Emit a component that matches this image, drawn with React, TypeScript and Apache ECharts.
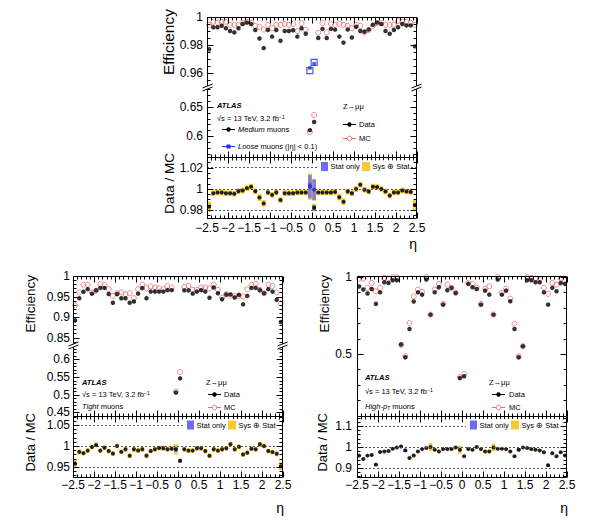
import React, { useEffect, useRef } from "react";
import * as echarts from "echarts";

// η bin centres, bin width 0.1
const etaBins = [
  -2.45, -2.35, -2.25, -2.15, -2.05, -1.95, -1.85, -1.75, -1.65, -1.55,
  -1.45, -1.35, -1.25, -1.15, -1.05, -0.95, -0.85, -0.75, -0.65, -0.55,
  -0.45, -0.35, -0.25, -0.15, -0.05, 0.05, 0.15, 0.25, 0.35, 0.45,
  0.55, 0.65, 0.75, 0.85, 0.95, 1.05, 1.15, 1.25, 1.35, 1.45,
  1.55, 1.65, 1.75, 1.85, 1.95, 2.05, 2.15, 2.25, 2.35, 2.45,
];
const etaTicks = [-2.5, -2, -1.5, -1, -0.5, 0, 0.5, 1, 1.5, 2, 2.5];

// Medium muons
const mediumData = [
  0.977, 0.9927, 0.9927, 0.9937, 0.992, 0.99, 0.989, 0.992, 0.995, 0.996,
  0.995, 0.9907, 0.9846, 0.9778, 0.9907, 0.986, 0.9907, 0.983, 0.99, 0.99,
  0.9905, 0.986, 0.992, 0.988, 0.61, 0.624, 0.985, 0.9915, 0.985, 0.9915,
  0.991, 0.986, 0.9817, 0.991, 0.9854, 0.993, 0.99, 0.9895, 0.991, 0.9944,
  0.996, 0.995, 0.99, 0.988, 0.9907, 0.9927, 0.995, 0.994, 0.994, 0.979,
];
const mediumMC = [
  0.9944, 0.9966, 0.996, 0.9966, 0.9966, 0.9944, 0.9944, 0.9944, 0.9956, 0.9966,
  0.9956, 0.9937, 0.993, 0.991, 0.9944, 0.992, 0.9944, 0.9944, 0.995, 0.9944,
  0.995, 0.99, 0.9956, 0.991, 0.607, 0.636, 0.9888, 0.9956, 0.989, 0.995,
  0.9944, 0.995, 0.9944, 0.9937, 0.992, 0.9944, 0.9937, 0.989, 0.9907, 0.9937,
  0.9956, 0.9956, 0.9944, 0.9944, 0.9944, 0.997, 0.9966, 0.9966, 0.9956, 0.9944,
];
const mediumRatio = [
  0.983, 0.9958, 0.9965, 0.9965, 0.9958, 0.9958, 0.9952, 0.9977, 0.9984, 1.0006,
  1.002, 0.9977, 0.9916, 0.9861, 0.9965, 0.9942, 0.9965, 0.9894, 0.9958, 0.9958,
  0.9958, 0.9965, 0.9965, 0.9965, 1.003, 0.982, 0.9965, 0.9965, 0.9965, 0.9965,
  0.997, 0.992, 0.9877, 0.9974, 0.9958, 0.9997, 1.0039, 0.999, 0.9974, 1.002,
  1.0016, 0.9997, 0.9974, 0.9935, 0.9965, 0.9965, 0.9984, 0.9974, 0.997, 0.9845,
];
const mediumStatErr = [
  0.0015, 0.0008, 0.0008, 0.0008, 0.0008, 0.0008, 0.0008, 0.0008, 0.0008, 0.0008,
  0.0008, 0.0008, 0.0008, 0.0008, 0.0008, 0.0008, 0.0008, 0.0008, 0.0008, 0.0008,
  0.0008, 0.0008, 0.0008, 0.0008, 0.003, 0.0025, 0.0008, 0.0008, 0.0008, 0.0008,
  0.0008, 0.0008, 0.0008, 0.0008, 0.0008, 0.0008, 0.0008, 0.0008, 0.0008, 0.0008,
  0.0008, 0.0008, 0.0008, 0.0008, 0.0008, 0.0008, 0.0008, 0.0008, 0.0008, 0.0015,
];
const mediumSysErr = [
  0.0048, 0.0027, 0.0027, 0.0027, 0.0027, 0.0027, 0.0027, 0.0027, 0.0027, 0.0027,
  0.0027, 0.0027, 0.0031, 0.0031, 0.0027, 0.0027, 0.0027, 0.0027, 0.0027, 0.0027,
  0.0027, 0.0027, 0.0027, 0.0027, 0.004, 0.0035, 0.0027, 0.0027, 0.0027, 0.0027,
  0.0027, 0.0031, 0.0031, 0.0027, 0.0027, 0.0027, 0.0027, 0.0027, 0.0027, 0.0027,
  0.0027, 0.0027, 0.0027, 0.0027, 0.0027, 0.0027, 0.0027, 0.0027, 0.0027, 0.0048,
];

// Loose muons, |η| < 0.1 only
const looseBins = [-0.05, 0.05];
const looseData = [0.9636, 0.9666];
const looseMC = [0.9617, 0.9676];
const looseRatio = [1.002, 0.999];
const looseStatErr = [0.011, 0.01];
const looseSysErr = [0.0126, 0.0101];

// Tight muons
const tightData = [
  0.892, 0.946, 0.9615, 0.968, 0.957, 0.965, 0.971, 0.971, 0.956, 0.935,
  0.956, 0.946, 0.946, 0.935, 0.938, 0.957, 0.9705, 0.946, 0.962, 0.962,
  0.962, 0.962, 0.9656, 0.9656, 0.506, 0.546, 0.965, 0.965, 0.957, 0.962,
  0.9656, 0.962, 0.947, 0.972, 0.958, 0.9434, 0.955, 0.955, 0.9475, 0.954,
  0.931, 0.9516, 0.971, 0.971, 0.9656, 0.958, 0.968, 0.962, 0.942, 0.888,
];
const tightMC = [
  0.9287, 0.96, 0.9787, 0.9787, 0.96, 0.964, 0.98, 0.978, 0.968, 0.9516,
  0.958, 0.96, 0.9557, 0.958, 0.946, 0.968, 0.9787, 0.9705, 0.9746, 0.972,
  0.9697, 0.968, 0.976, 0.972, 0.509, 0.564, 0.9738, 0.976, 0.9664, 0.9664,
  0.972, 0.972, 0.9697, 0.9787, 0.9664, 0.9475, 0.9557, 0.9516, 0.9516, 0.9516,
  0.95, 0.968, 0.9787, 0.981, 0.9664, 0.958, 0.9787, 0.976, 0.96, 0.933,
];
const tightRatio = [
  0.958, 0.986, 0.983, 0.989, 0.9976, 1.0024, 0.989, 0.996, 0.988, 0.982,
  1.0, 0.986, 0.992, 0.977, 0.992, 0.9895, 0.992, 0.977, 0.988, 0.992,
  0.995, 0.9944, 0.992, 0.9935, 0.992, 0.965, 0.992, 0.989, 0.989, 0.9944,
  0.9944, 0.988, 0.9766, 0.992, 0.989, 0.992, 0.9944, 1.004, 0.992, 0.998,
  0.98, 0.984, 0.9935, 0.992, 1.004, 1.0, 0.988, 0.9855, 0.9815, 0.952,
];
const tightStatErr = [
  0.003, 0.001, 0.001, 0.001, 0.001, 0.001, 0.001, 0.001, 0.001, 0.001,
  0.001, 0.001, 0.001, 0.001, 0.001, 0.001, 0.001, 0.001, 0.001, 0.001,
  0.001, 0.001, 0.001, 0.001, 0.005, 0.004, 0.001, 0.001, 0.001, 0.001,
  0.001, 0.001, 0.001, 0.001, 0.001, 0.001, 0.001, 0.001, 0.001, 0.001,
  0.001, 0.001, 0.001, 0.001, 0.001, 0.001, 0.001, 0.001, 0.001, 0.003,
];
const tightSysErr = [
  0.009, 0.006, 0.0055, 0.0055, 0.0055, 0.0055, 0.0055, 0.0055, 0.0055, 0.0055,
  0.0055, 0.0055, 0.0055, 0.0055, 0.0055, 0.0055, 0.0055, 0.0055, 0.0055, 0.0055,
  0.0055, 0.0055, 0.0055, 0.0055, 0.0125, 0.005, 0.0055, 0.0055, 0.0055, 0.0055,
  0.0055, 0.0055, 0.0055, 0.0055, 0.0055, 0.0055, 0.0055, 0.0055, 0.0055, 0.0055,
  0.0055, 0.0055, 0.0055, 0.0055, 0.0055, 0.0055, 0.0055, 0.0055, 0.006, 0.01,
];

// High-pT muons
const highPtData = [
  0.938, 0.918, 0.892, 0.922, 0.825, 0.9, 0.965, 0.961, 0.978, 0.978,
  0.561, 0.478, 0.662, 0.84, 0.9, 0.885, 0.983, 0.755, 0.9, 0.933,
  0.82, 0.913, 0.929, 0.896, 0.344, 0.355, 0.955, 0.933, 0.922, 0.82,
  0.911, 0.885, 0.755, 0.983, 0.885, 0.911, 0.842, 0.662, 0.478, 0.55,
  0.978, 0.978, 0.965, 0.965, 0.9, 0.82, 0.929, 0.907, 0.961, 0.955,
];
const highPtMC = [
  0.989, 0.989, 0.929, 0.961, 0.907, 0.929, 0.994, 0.989, 0.998, 0.998,
  0.559, 0.485, 0.701, 0.874, 0.918, 0.903, 0.998, 0.755, 0.918, 0.955,
  0.825, 0.95, 0.929, 0.898, 0.349, 0.371, 0.961, 0.955, 0.929, 0.825,
  0.924, 0.939, 0.756, 0.998, 0.896, 0.924, 0.859, 0.697, 0.485, 0.551,
  0.998, 0.994, 0.989, 0.983, 0.929, 0.89, 0.961, 0.95, 0.989, 0.978,
];
const highPtRatio = [
  0.959, 0.943, 0.959, 0.962, 0.916, 0.976, 0.979, 0.981, 0.992, 0.998,
  1.003, 0.984, 0.948, 0.96, 0.979, 0.99, 0.995, 1.0, 0.987, 0.979,
  0.99, 0.99, 0.99, 0.998, 0.987, 0.956, 0.99, 0.987, 1.0, 0.99,
  0.979, 0.979, 0.998, 0.992, 0.992, 0.99, 0.979, 0.956, 0.987, 0.998,
  0.995, 0.99, 0.987, 0.983, 0.975, 0.913, 0.97, 0.956, 0.975, 0.96,
];
const highPtStatErr = [
  0.003, 0.003, 0.003, 0.003, 0.006, 0.003, 0.003, 0.003, 0.003, 0.003,
  0.003, 0.008, 0.003, 0.003, 0.003, 0.003, 0.003, 0.003, 0.003, 0.003,
  0.003, 0.003, 0.003, 0.003, 0.003, 0.003, 0.003, 0.003, 0.003, 0.003,
  0.003, 0.003, 0.003, 0.003, 0.003, 0.003, 0.003, 0.003, 0.008, 0.003,
  0.003, 0.003, 0.003, 0.003, 0.003, 0.007, 0.003, 0.003, 0.003, 0.003,
];
const highPtSysErr = [
  0.006, 0.006, 0.006, 0.006, 0.006, 0.006, 0.006, 0.006, 0.006, 0.006,
  0.006, 0.006, 0.006, 0.006, 0.006, 0.006, 0.006, 0.019, 0.006, 0.006,
  0.006, 0.006, 0.006, 0.006, 0.019, 0.006, 0.006, 0.006, 0.006, 0.006,
  0.006, 0.006, 0.017, 0.006, 0.006, 0.006, 0.006, 0.006, 0.006, 0.006,
  0.006, 0.006, 0.006, 0.006, 0.006, 0.006, 0.006, 0.006, 0.006, 0.006,
];

const FONT = "'Liberation Sans', Arial, Helvetica, sans-serif";
const RED = "#ee6b6b";
const LOOSE_BLUE = "#1d2fe8";
const SYS_YELLOW = "#fbc934";
const STAT_BLUE = "rgba(96, 96, 255, 0.85)";

type Range = [number, number];
interface AxisSpec {
  top: number;
  height: number;
  range: Range;
  labels: number[];
  major: number;
  minor: number;
}

function tickValues(range: Range, step: number): number[] {
  const out: number[] = [];
  const k0 = Math.ceil(range[0] / step - 1e-6);
  const k1 = Math.floor(range[1] / step + 1e-6);
  for (let k = k0; k <= k1; k++) out.push(+(k * step).toFixed(6));
  return out;
}

const fmtEta = (v: number) => (v < 0 ? "\u2212" + String(-v) : String(v));

function buildOption() {
  const grid: any[] = [];
  const xAxis: any[] = [];
  const yAxis: any[] = [];
  const series: any[] = [];
  const graphic: any[] = [];

  const addGrid = (
    left: number,
    width: number,
    ax: AxisSpec,
    o: { xLabels?: boolean; xMargin?: number; tickTop: boolean; tickBottom: boolean; yMargin: number; labelSize: number }
  ) => {
    const i = grid.length;
    grid.push({ left, top: ax.top, width, height: ax.height, show: false });
    xAxis.push({
      type: "value",
      gridIndex: i,
      min: -2.5,
      max: 2.5,
      show: !!o.xLabels,
      axisLine: { show: false },
      axisTick: { show: false },
      splitLine: { show: false },
      axisLabel: {
        show: !!o.xLabels,
        customValues: etaTicks,
        formatter: fmtEta,
        color: "#000",
        fontSize: o.labelSize,
        fontFamily: FONT,
        margin: o.xMargin ?? 4,
      },
    });
    yAxis.push({
      type: "value",
      gridIndex: i,
      min: ax.range[0],
      max: ax.range[1],
      axisLine: { show: false },
      axisTick: { show: false },
      splitLine: { show: false },
      axisLabel: {
        customValues: ax.labels,
        formatter: (v: number) => String(v),
        color: "#000",
        fontSize: o.labelSize,
        fontFamily: FONT,
        margin: o.yMargin,
      },
    });
    const xMajor = tickValues([-2.5, 2.5], 0.5);
    const xMinor = tickValues([-2.5, 2.5], 0.1);
    const yMajor = tickValues(ax.range, ax.major);
    const yMinor = tickValues(ax.range, ax.minor);
    const mid = (ax.range[0] + ax.range[1]) / 2;
    const isIn = (list: number[], v: number) => list.some((m) => Math.abs(m - v) < 1e-7);
    // frame tick marks, drawn inward on every edge of this sub-pad
    series.push({
      type: "custom",
      xAxisIndex: i,
      yAxisIndex: i,
      silent: true,
      clip: false,
      z: 8,
      data: [[0, mid]],
      renderItem: (params: any, api: any) => {
        const cs = params.coordSys;
        const xl = Math.round(cs.x) + 0.5;
        const xr = Math.round(cs.x + cs.width) - 0.5;
        const yt = Math.round(cs.y) + 0.5;
        const yb = Math.round(cs.y + cs.height) + 0.5;
        const kids: any[] = [];
        const seg = (x1: number, y1: number, x2: number, y2: number) =>
          kids.push({ type: "line", shape: { x1, y1, x2, y2 }, style: { stroke: "#000", lineWidth: 1 } });
        for (const v of xMinor) {
          const len = isIn(xMajor, v) ? 6 : 3;
          const px = Math.round(api.coord([v, mid])[0]) + 0.5;
          if (o.tickTop) seg(px, yt, px, yt + len);
          if (o.tickBottom) seg(px, yb, px, yb - len);
        }
        for (const v of yMinor) {
          const len = isIn(yMajor, v) ? 6 : 3;
          const py = Math.round(api.coord([0, v])[1]) + 0.5;
          seg(xl, py, xl + len, py);
          seg(xr, py, xr - len, py);
        }
        return { type: "group", children: kids };
      },
    });
    return i;
  };

  const effSeries = (g: number, range: Range, xs: number[], data: number[], mc: number[]) => {
    const pts = (vals: number[]) =>
      xs.map((x, k) => [x, vals[k]]).filter((p) => p[1] >= range[0] && p[1] <= range[1]);
    series.push({
      type: "scatter", xAxisIndex: g, yAxisIndex: g, silent: true, z: 3,
      symbol: "circle", symbolSize: 5,
      itemStyle: { color: "rgba(255,255,255,0)", borderColor: RED, borderWidth: 1 },
      data: pts(mc),
    });
    series.push({
      type: "scatter", xAxisIndex: g, yAxisIndex: g, silent: true, z: 4,
      symbol: "circle", symbolSize: 4.5, itemStyle: { color: "#000" },
      data: pts(data),
    });
  };

  const boxSeries = (g: number, xs: number[], ys: number[], errs: number[], fill: string, halfW: number, z: number) => {
    series.push({
      type: "custom", xAxisIndex: g, yAxisIndex: g, silent: true, clip: true, z,
      encode: { x: 0, y: 1 },
      data: xs.map((x, k) => [x, ys[k], errs[k]]),
      renderItem: (_p: any, api: any) => {
        const x = api.value(0), y = api.value(1), e = api.value(2);
        const a = api.coord([x - halfW, y + e]);
        const b = api.coord([x + halfW, y - e]);
        return { type: "rect", shape: { x: a[0], y: a[1], width: b[0] - a[0], height: b[1] - a[1] }, style: { fill } };
      },
    });
  };

  const ratioDots = (g: number, xs: number[], ys: number[], color: string, z: number) => {
    series.push({
      type: "scatter", xAxisIndex: g, yAxisIndex: g, silent: true, z,
      symbol: "circle", symbolSize: 4, itemStyle: { color },
      data: xs.map((x, k) => [x, ys[k]]),
    });
  };

  const refLines = (g: number, values: number[]) => {
    series.push({
      type: "scatter", xAxisIndex: g, yAxisIndex: g, silent: true, z: 1, data: [],
      markLine: {
        silent: true, symbol: ["none", "none"], label: { show: false }, animation: false,
        lineStyle: { type: [2, 2], color: "#555", width: 1 },
        data: values.map((v) => ({ yAxis: v })),
      },
    });
  };

  // ---- graphic helpers ----
  const T = (x: number, y: number, text: string, size = 7.5, extra: any = {}, rich?: any) =>
    graphic.push({
      type: "text", x, y, z: 22, silent: true,
      style: {
        text, fontSize: size, fontFamily: FONT, fill: "#000",
        align: "left", verticalAlign: "middle", textAlign: "left", textVerticalAlign: "middle",
        ...(rich ? { rich } : {}),
        ...extra,
      },
    });
  const VT = (x: number, yTop: number, text: string, size: number) =>
    graphic.push({
      type: "text", x, y: yTop, rotation: Math.PI / 2, z: 22, silent: true,
      style: {
        text, fontSize: size, fontFamily: FONT, fill: "#000",
        align: "right", verticalAlign: "middle", textAlign: "right", textVerticalAlign: "middle",
      },
    });
  const Ln = (x1: number, y1: number, x2: number, y2: number, stroke = "#000", lineWidth = 1, z = 22) =>
    graphic.push({ type: "line", z, silent: true, shape: { x1, y1, x2, y2 }, style: { stroke, lineWidth } });
  const Circ = (cx: number, cy: number, r: number, fill: string, stroke?: string) =>
    graphic.push({
      type: "circle", z: 23, silent: true, shape: { cx, cy, r },
      style: { fill, stroke: stroke || null, lineWidth: 1 },
    });
  const Rect = (x: number, y: number, width: number, height: number, fill: string, stroke?: string, z = 22) =>
    graphic.push({
      type: "rect", z, silent: true, shape: { x, y, width, height },
      style: { fill, stroke: stroke || null, lineWidth: 1 },
    });
  const frame = (left: number, width: number, top: number, bottom: number) =>
    Rect(left + 0.5, top + 0.5, width - 1, bottom - top, "none", "#000", 20);
  const breakMark = (cx: number, cy: number) => {
    graphic.push({
      type: "polygon", z: 24, silent: true,
      shape: { points: [[cx - 5, cy + 1], [cx + 5, cy - 3], [cx + 5, cy], [cx - 5, cy + 4]] },
      style: { fill: "#fff", stroke: null },
    });
    Ln(cx - 5, cy + 1, cx + 5, cy - 3, "#000", 1, 25);
    Ln(cx - 5, cy + 4, cx + 5, cy, "#000", 1, 25);
  };
  const sqrtS = "\u221As = 13 TeV, 3.2 fb{sup|\u22121}";
  const richCommon = {
    sup: { fontSize: 5, fontFamily: FONT, verticalAlign: "top" },
    sub: { fontSize: 5, fontFamily: FONT, verticalAlign: "bottom", fontStyle: "italic" },
    it: { fontSize: 7.5, fontFamily: FONT, fontStyle: "italic" },
  };
  const dataLegend = (x: number, y: number) => {
    Ln(x, y + 0.5, x + 13, y + 0.5, "#000", 1);
    Circ(x + 6.5, y + 0.5, 2.2, "#000");
  };
  const mcLegend = (x: number, y: number) => {
    Ln(x, y + 0.5, x + 13, y + 0.5, RED, 1);
    Circ(x + 6.5, y + 0.5, 2.3, "#fff", RED);
  };
  const ratioLegend = (x: number, y: number) => {
    Rect(x - 4, y - 6, 93, 13, "#fff", undefined, 21);
    Rect(x, y - 4.5, 7, 9, "#6a6aff");
    T(x + 9.5, y, "Stat only", 7.5);
    Rect(x + 41, y - 4.5, 8, 9, SYS_YELLOW);
    T(x + 51.5, y, "Sys \u2295 Stat", 7.5);
  };

  // ================= Medium (top) =================
  {
    const left = 207, width = 210;
    const up = addGrid(left, width, { top: 17, height: 70, range: [0.95, 1.0], labels: [0.96, 0.98, 1], major: 0.02, minor: 0.005 },
      { tickTop: true, tickBottom: false, yMargin: 4, labelSize: 12 });
    const lo = addGrid(left, width, { top: 87, height: 70, range: [0.564, 0.684], labels: [0.6, 0.65], major: 0.05, minor: 0.01 },
      { tickTop: false, tickBottom: true, yMargin: 4, labelSize: 12 });
    const ra = addGrid(left, width, { top: 157, height: 61, range: [0.9722, 1.0302], labels: [0.98, 1, 1.02], major: 0.02, minor: 0.005 },
      { xLabels: true, xMargin: 4, tickTop: true, tickBottom: true, yMargin: 4, labelSize: 12 });

    effSeries(up, [0.95, 1.0], etaBins, mediumData, mediumMC);
    effSeries(lo, [0.564, 0.684], etaBins, mediumData, mediumMC);
    series.push({
      type: "scatter", xAxisIndex: up, yAxisIndex: up, silent: true, z: 5,
      symbol: "rect", symbolSize: 6,
      itemStyle: { color: "rgba(255,255,255,0)", borderColor: LOOSE_BLUE, borderWidth: 1.2 },
      data: looseBins.map((x, k) => [x, looseMC[k]]),
    });
    series.push({
      type: "scatter", xAxisIndex: up, yAxisIndex: up, silent: true, z: 6,
      symbol: "rect", symbolSize: 3.5, itemStyle: { color: LOOSE_BLUE },
      data: looseBins.map((x, k) => [x, looseData[k]]),
    });

    refLines(ra, [0.98, 1, 1.02]);
    boxSeries(ra, etaBins, mediumRatio, mediumSysErr, SYS_YELLOW, 0.05, 2);
    boxSeries(ra, looseBins, looseRatio, looseSysErr, SYS_YELLOW, 0.045, 2);
    boxSeries(ra, etaBins, mediumRatio, mediumStatErr, STAT_BLUE, 0.045, 3);
    ratioDots(ra, etaBins, mediumRatio, "#000", 4);
    boxSeries(ra, looseBins, looseRatio, looseStatErr, "rgba(96,96,255,0.7)", 0.045, 5);
    ratioDots(ra, looseBins, looseRatio, LOOSE_BLUE, 6);

    frame(left, width, 17, 157);
    frame(left, width, 157, 218);
    breakMark(left + 0.5, 87);
    breakMark(left + width - 0.5, 87);

    VT(168, 9, "Efficiency", 15.5);
    VT(169, 153, "Data / MC", 13.5);
    T(417, 244, "\u03B7", 14, { align: "right", textAlign: "right" });

    T(217, 105, "ATLAS", 7.5, { fontWeight: "bold", fontStyle: "italic" });
    T(217, 118, sqrtS, 7.5, {}, richCommon);
    dataLegend(222, 129);
    T(238, 129.5, "{it|Medium} muons", 7.5, {}, richCommon);
    Ln(222, 146.5, 235, 146.5, LOOSE_BLUE, 1);
    Rect(226.5, 144.5, 4, 4, LOOSE_BLUE, undefined, 23);
    T(238, 146.5, "{it|Loose} muons (|\u03B7| < 0.1)", 7.5, {}, richCommon);
    T(343, 106, "Z\u2192\u03BC\u03BC", 7.5);
    dataLegend(343, 124);
    T(359, 124.5, "Data", 7.5);
    mcLegend(343, 138);
    T(359, 138.5, "MC", 7.5);
    ratioLegend(321, 166.5);
  }

  // ================= Tight (bottom left) =================
  {
    const left = 73, width = 210;
    const up = addGrid(left, width, { top: 276, height: 69, range: [0.832, 1.0], labels: [0.85, 0.9, 0.95, 1], major: 0.05, minor: 0.01 },
      { tickTop: true, tickBottom: false, yMargin: 3, labelSize: 12 });
    const lo = addGrid(left, width, { top: 345, height: 71, range: [0.439, 0.641], labels: [0.45, 0.5, 0.55, 0.6], major: 0.05, minor: 0.01 },
      { tickTop: false, tickBottom: true, yMargin: 3, labelSize: 12 });
    const ra = addGrid(left, width, { top: 416, height: 61, range: [0.9262, 1.0714], labels: [0.95, 1, 1.05], major: 0.05, minor: 0.01 },
      { xLabels: true, xMargin: 2, tickTop: true, tickBottom: true, yMargin: 3, labelSize: 12 });

    effSeries(up, [0.832, 1.0], etaBins, tightData, tightMC);
    effSeries(lo, [0.439, 0.641], etaBins, tightData, tightMC);

    refLines(ra, [0.95, 1, 1.05]);
    boxSeries(ra, etaBins, tightRatio, tightSysErr, SYS_YELLOW, 0.045, 2);
    boxSeries(ra, etaBins, tightRatio, tightStatErr, STAT_BLUE, 0.045, 3);
    ratioDots(ra, etaBins, tightRatio, "#000", 4);

    frame(left, width, 276, 416);
    frame(left, width, 416, 477);
    breakMark(left + 0.5, 345);
    breakMark(left + width - 0.5, 345);

    VT(30, 275, "Efficiency", 13.5);
    VT(30, 413, "Data / MC", 13);
    T(284, 508, "\u03B7", 14, { align: "right", textAlign: "right" });

    T(82, 382, "ATLAS", 7.5, { fontWeight: "bold", fontStyle: "italic" });
    T(82, 394, sqrtS, 7.5, {}, richCommon);
    T(82, 406.5, "{it|Tight} muons", 7.5, {}, richCommon);
    T(206, 382, "Z\u2192\u03BC\u03BC", 7.5);
    dataLegend(208, 394);
    T(224, 394.5, "Data", 7.5);
    mcLegend(208, 407);
    T(224, 407.5, "MC", 7.5);
    ratioLegend(187, 425);
  }

  // ================= High-pT (bottom right) =================
  {
    const left = 357, width = 210;
    const ef = addGrid(left, width, { top: 276, height: 140, range: [0.097, 1.006], labels: [0.5, 1], major: 0.5, minor: 0.1 },
      { tickTop: true, tickBottom: true, yMargin: 5, labelSize: 12 });
    const ra = addGrid(left, width, { top: 416, height: 61, range: [0.857, 1.148], labels: [0.9, 1, 1.1], major: 0.1, minor: 0.02 },
      { xLabels: true, xMargin: 2, tickTop: true, tickBottom: true, yMargin: 5, labelSize: 12 });

    effSeries(ef, [0.097, 1.006], etaBins, highPtData, highPtMC);

    refLines(ra, [0.9, 1, 1.1]);
    boxSeries(ra, etaBins, highPtRatio, highPtSysErr, SYS_YELLOW, 0.045, 2);
    boxSeries(ra, etaBins, highPtRatio, highPtStatErr, STAT_BLUE, 0.045, 3);
    ratioDots(ra, etaBins, highPtRatio, "#000", 4);

    frame(left, width, 276, 416);
    frame(left, width, 416, 477);

    VT(324, 275, "Efficiency", 13.5);
    VT(322, 413, "Data / MC", 13);
    T(568, 508, "\u03B7", 14, { align: "right", textAlign: "right" });

    T(365, 377, "ATLAS", 7.5, { fontWeight: "bold", fontStyle: "italic" });
    T(365, 391, sqrtS, 7.5, {}, richCommon);
    T(365, 406, "{it|High-p}{sub|T} muons", 7.5, {}, richCommon);
    T(489, 382, "Z\u2192\u03BC\u03BC", 7.5);
    dataLegend(492, 394);
    T(509, 394.5, "Data", 7.5);
    mcLegend(492, 407);
    T(509, 407.5, "MC", 7.5);
    ratioLegend(470, 425);
  }

  return {
    animation: false,
    backgroundColor: "#fff",
    grid,
    xAxis,
    yAxis,
    series,
    graphic: { elements: graphic },
  };
}

export default function App() {
  const ref = useRef<HTMLDivElement>(null);
  useEffect(() => {
    if (!ref.current) return;
    const chart = echarts.init(ref.current, null, { renderer: "svg" });
    chart.setOption(buildOption() as any);
    return () => chart.dispose();
  }, []);
  return (
    <div
      ref={ref}
      style={{ position: "fixed", left: 0, top: 0, width: 594, height: 523, background: "#fff" }}
    />
  );
}
